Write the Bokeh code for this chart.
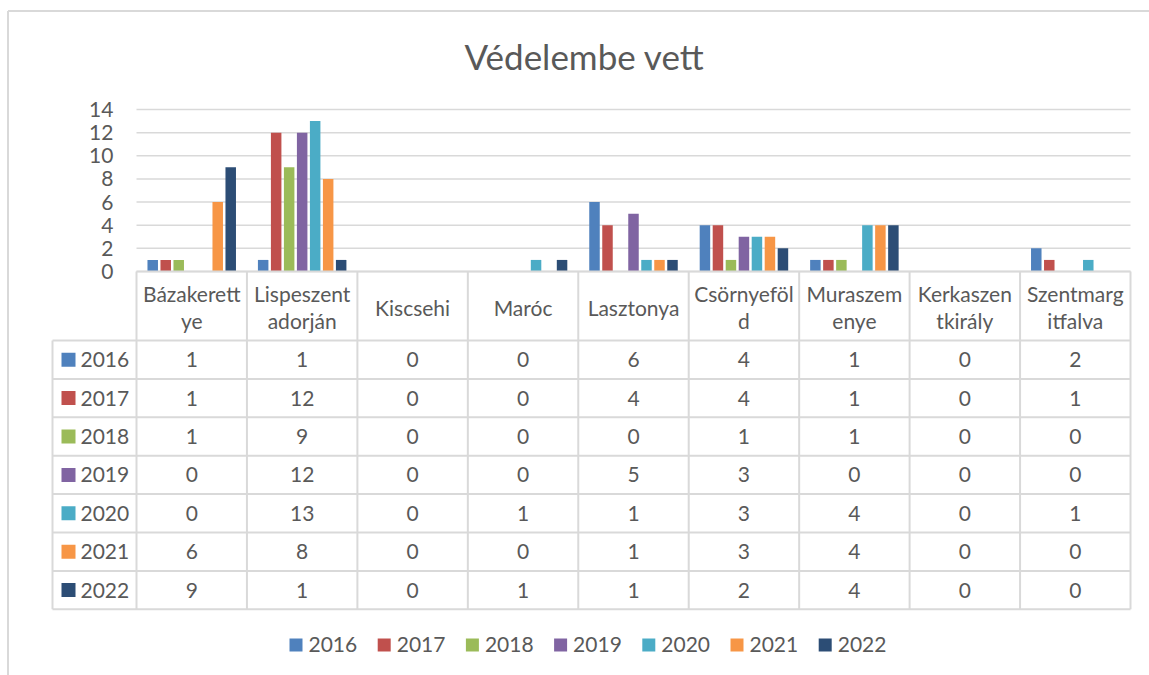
from bokeh.plotting import figure
from bokeh.models import Range1d, ColumnDataSource
from bokeh.core.properties import value
from bokeh.embed import file_html
from bokeh.resources import INLINE

# ---------------- data ----------------
title = "Védelembe vett"
categories = ["Bázakerett\nye", "Lispeszent\nadorján", "Kiscsehi", "Maróc", "Lasztonya",
              "Csörnyeföl\nd", "Muraszem\nenye", "Kerkaszen\ntkirály", "Szentmarg\nitfalva"]
years = ["2016", "2017", "2018", "2019", "2020", "2021", "2022"]
v2016 = [1, 1, 0, 0, 6, 4, 1, 0, 2]
v2017 = [1, 12, 0, 0, 4, 4, 1, 0, 1]
v2018 = [1, 9, 0, 0, 0, 1, 1, 0, 0]
v2019 = [0, 12, 0, 0, 5, 3, 0, 0, 0]
v2020 = [0, 13, 0, 1, 1, 3, 4, 0, 1]
v2021 = [6, 8, 0, 0, 1, 3, 4, 0, 0]
v2022 = [9, 1, 0, 1, 1, 2, 4, 0, 0]
y_ticks = [0, 2, 4, 6, 8, 10, 12, 14]
colors = ["#4F81BD", "#C0504D", "#9BBB59", "#8064A2", "#4BACC6", "#F79646", "#2C4D75"]
series = [v2016, v2017, v2018, v2019, v2020, v2021, v2022]

# ---------------- layout (screen pixels) ----------------
W, H = 1149, 675
SX0, SX1, SY0, SY1 = 0, W, 0, H
PL, PR = 136, 1130          # plot area left/right
Y0, Y14 = 271, 109           # screen y of value 0 and 14
ux = (PR - PL) / len(categories)
uy = (Y0 - Y14) / 14.0
TL = 52                      # table left
HDR_B = 340
ROW_H = 38.4
FONT = "Lato"
TXT = "#595959"
GRID = "#d9d9d9"

p = figure(width=W, height=H, output_backend="svg", toolbar_location=None,
           x_range=Range1d((SX0 - PL) / ux, (SX1 - PL) / ux),
           y_range=Range1d((Y0 - SY1) / uy, (Y0 - SY0) / uy),
           min_border=0, x_axis_type=None, y_axis_type=None)
p.extra_x_ranges = {"px": Range1d(SX0, SX1)}
p.extra_y_ranges = {"px": Range1d(SY1, SY0)}
p.xgrid.visible = False
p.ygrid.visible = False
p.outline_line_color = None
p.background_fill_color = "white"
p.border_fill_color = "white"

def pxs(**kw):
    return dict(x_range_name="px", y_range_name="px", **kw)

# chart border (top & left)
p.segment(x0=[7.5, 7.5], y0=[10.5, 10.5], x1=[SX1, 7.5], y1=[10.5, SY1],
          line_color=GRID, line_width=2, **pxs())

# title
p.text(x=[584], y=[55], text=[title], text_align="center", text_baseline="middle",
       text_font=value(FONT), text_font_size="35px", text_color=TXT, **pxs())

# gridlines
n = len(categories)
p.segment(x0=[0] * len(y_ticks), x1=[n] * len(y_ticks), y0=y_ticks, y1=y_ticks,
          line_color=GRID, line_width=1.5)

# y tick labels
p.text(x=[-0.21] * len(y_ticks), y=y_ticks, text=[str(t) for t in y_ticks],
       text_align="right", text_baseline="middle", text_font=value(FONT),
       text_font_size="21px", text_color=TXT)

# bars
step = 13 / ux
bw = 10.5 / ux
for i, (yr, vals, c) in enumerate(zip(years, series, colors)):
    xs = [k + 0.5 + (i - 3) * step for k in range(n)]
    src = ColumnDataSource(dict(x=xs, top=vals))
    p.vbar(x="x", top="top", bottom=0, width=bw, source=src, fill_color=c, line_color=None)

# table lines
rows_b = [HDR_B + ROW_H * (r + 1) for r in range(len(years))]
tb = rows_b[-1]
col_x = [PL + ux * k for k in range(n + 1)]
p.segment(x0=col_x, x1=col_x, y0=[Y0] * len(col_x), y1=[tb] * len(col_x),
          line_color=GRID, line_width=2, **pxs())
p.segment(x0=[TL], x1=[TL], y0=[HDR_B], y1=[tb], line_color=GRID, line_width=2, **pxs())
hy = [HDR_B] + rows_b
p.segment(x0=[TL] * len(hy), x1=[PR] * len(hy), y0=hy, y1=hy,
          line_color=GRID, line_width=2, **pxs())
p.segment(x0=[PL], x1=[PR], y0=[Y0], y1=[Y0], line_color=GRID, line_width=2, **pxs())

# header labels
cx = [PL + ux * (k + 0.5) for k in range(n)]
p.text(x=cx, y=[(Y0 + HDR_B) / 2 + 1] * n, text=categories, text_align="center",
       text_baseline="middle", text_font=value(FONT), text_font_size="21px",
       text_color=TXT, text_line_height=1.1, **pxs())

# rows
for r, (yr, vals, c) in enumerate(zip(years, series, colors)):
    yc = HDR_B + ROW_H * (r + 0.5)
    p.rect(x=[68], y=[yc], width=14, height=14, fill_color=c, line_color=None, **pxs())
    p.text(x=[80], y=[yc], text=[yr], text_align="left", text_baseline="middle",
           text_font=value(FONT), text_font_size="21px", text_color=TXT, **pxs())
    p.text(x=cx, y=[yc] * n, text=[str(v) for v in vals], text_align="center",
           text_baseline="middle", text_font=value(FONT), text_font_size="21px",
           text_color=TXT, **pxs())

# legend
lx0, lstep, ly = 289, 88.2, 644
for i, (yr, c) in enumerate(zip(years, colors)):
    x = lx0 + i * lstep
    p.rect(x=[x + 6.5], y=[ly + 0.5], width=13, height=13, fill_color=c, line_color=None, **pxs())
    p.text(x=[x + 19], y=[ly], text=[yr], text_align="left", text_baseline="middle",
           text_font=value(FONT), text_font_size="21px", text_color=TXT, **pxs())

open("out.html", "w").write(file_html(p, INLINE))
